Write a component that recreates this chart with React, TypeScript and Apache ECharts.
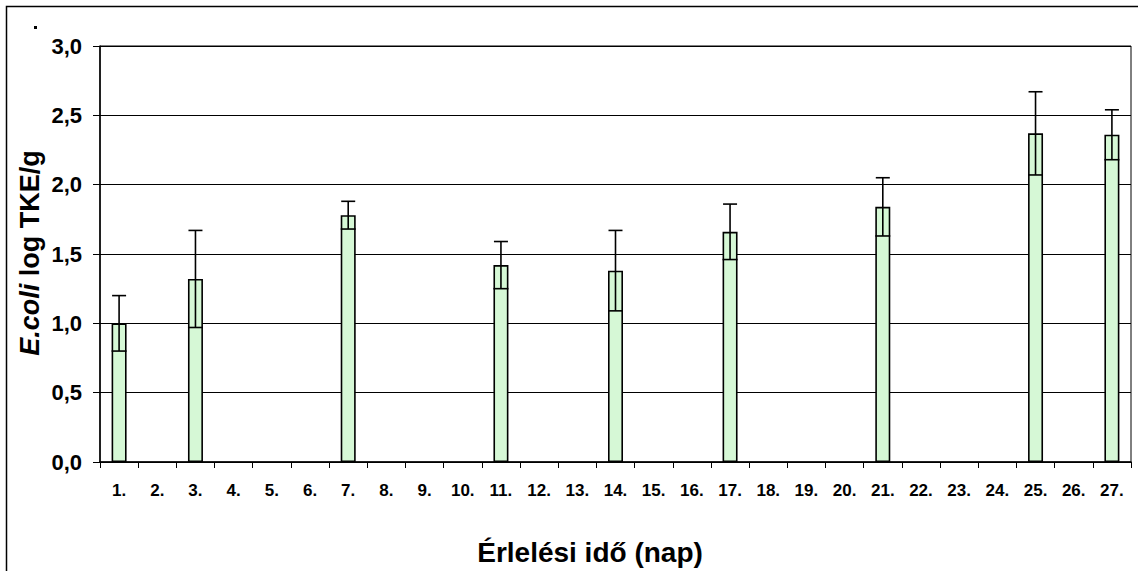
import React, { useEffect, useRef } from "react";
import * as echarts from "echarts";

const days: string[] = Array.from({ length: 27 }, (_, i) => `${i + 1}.`);
// measured days (index = day number)
const measuredDays: number[] = [1, 3, 7, 11, 14, 17, 21, 25, 27];
const meanValues: number[] = [1.0, 1.32, 1.78, 1.42, 1.38, 1.66, 1.84, 2.37, 2.36];
const errorValues: number[] = [0.2, 0.35, 0.1, 0.17, 0.29, 0.2, 0.21, 0.3, 0.18];
const yTicks: number[] = [0, 0.5, 1, 1.5, 2, 2.5, 3];

const FONT = "'Liberation Sans', Arial, sans-serif";

export default function App() {
  const ref = useRef<HTMLDivElement>(null);
  useEffect(() => {
    if (!ref.current) return;
    const chart = echarts.init(ref.current, undefined, { renderer: "svg" });
    const barData: (number | string)[] = days.map(() => "-");
    measuredDays.forEach((d, i) => {
      barData[d - 1] = meanValues[i];
    });
    const errData = measuredDays.map((d, i) => [d - 1, meanValues[i], errorValues[i]]);

    chart.setOption({
      animation: false,
      backgroundColor: "#fff",
      grid: {
        left: 100,
        right: 7,
        top: 46,
        bottom: 109,
        show: true,
        borderColor: "#000",
        borderWidth: 1,
      },
      xAxis: {
        type: "category",
        data: days,
        axisLine: { lineStyle: { color: "#000", width: 1.5 } },
        axisTick: { show: true, alignWithLabel: false, length: 6, lineStyle: { color: "#000" }, interval: 0 },
        axisLabel: {
          interval: 0,
          margin: 20,
          color: "#000",
          fontFamily: FONT,
          fontWeight: "bold",
          fontSize: 17,
        },
      },
      yAxis: {
        type: "value",
        min: yTicks[0],
        max: yTicks[yTicks.length - 1],
        interval: 0.5,
        axisLine: { show: true, lineStyle: { color: "#000", width: 1.5 } },
        axisTick: { show: true, length: 7, lineStyle: { color: "#000" } },
        splitLine: { show: true, lineStyle: { color: "#000", width: 1 } },
        axisLabel: {
          margin: 18,
          color: "#000",
          fontFamily: FONT,
          fontWeight: "bold",
          fontSize: 22,
          formatter: (v: number) => v.toFixed(1).replace(".", ","),
        },
      },
      series: [
        {
          type: "bar",
          data: barData,
          barWidth: 15,
          itemStyle: {
            color: "#d6f8d6",
            borderColor: "#000",
            borderWidth: 1.6,
          },
          z: 2,
        },
        {
          type: "custom",
          data: errData,
          z: 3,
          renderItem: (params: any, api: any) => {
            const x = api.value(0);
            const m = api.value(1);
            const e = api.value(2);
            const top = api.coord([x, m + e]);
            const bot = api.coord([x, m - e]);
            const cx = top[0];
            const hw = 7;
            const style = { stroke: "#000", lineWidth: 1.6 };
            return {
              type: "group",
              children: [
                { type: "line", shape: { x1: cx, y1: top[1], x2: cx, y2: bot[1] }, style },
                { type: "line", shape: { x1: cx - hw, y1: top[1], x2: cx + hw, y2: top[1] }, style },
                { type: "line", shape: { x1: cx - hw - 0.5, y1: bot[1], x2: cx + hw + 0.5, y2: bot[1] }, style },
              ],
            };
          },
        },
      ],
      graphic: [
        {
          type: "rect",
          shape: { x: 6.5, y: 6.5, width: 1140, height: 570 },
          style: { fill: "none", stroke: "#000", lineWidth: 1.5 },
          silent: true,
        },
        {
          type: "rect",
          shape: { x: 34, y: 26, width: 3, height: 3 },
          style: { fill: "#000" },
        },
        {
          type: "text",
          x: 30,
          y: 253,
          rotation: Math.PI / 2,
          style: {
            text: "{i|E.coli} log TKE/g",
            fontFamily: FONT,
            fontWeight: "bold",
            fontSize: 27,
            fill: "#000",
            align: "center",
            verticalAlign: "middle",
            rich: {
              i: { fontStyle: "italic", fontWeight: "bold", fontSize: 27, fontFamily: FONT, fill: "#000" },
            },
          },
        },
        {
          type: "text",
          x: 590,
          y: 552,
          style: {
            text: "Érlelési idő (nap)",
            fontFamily: FONT,
            fontWeight: "bold",
            fontSize: 28,
            fill: "#000",
            align: "center",
            verticalAlign: "middle",
          },
        },
      ],
    });
    return () => chart.dispose();
  }, []);
  return (
    <div
      ref={ref}
      style={{ position: "fixed", left: 0, top: 0, width: 1138, height: 571 }}
    />
  );
}
